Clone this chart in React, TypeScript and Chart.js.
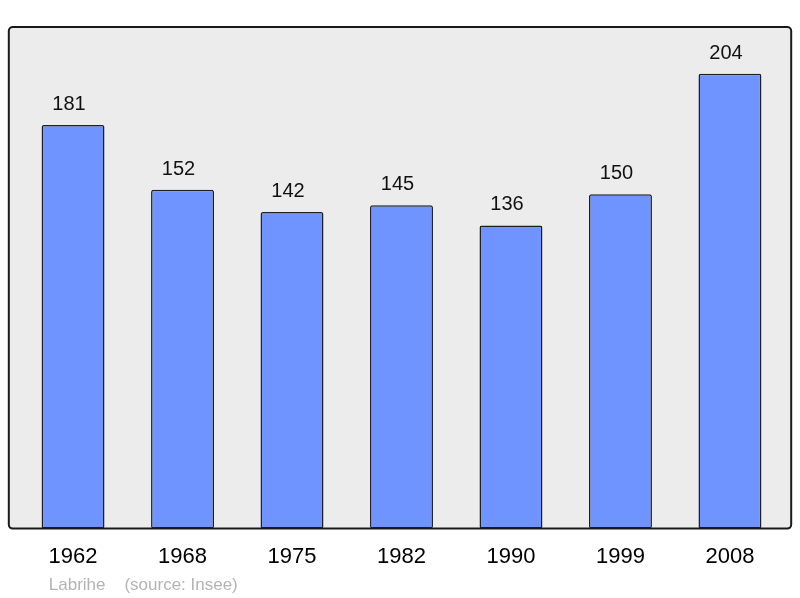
import React, { useEffect, useRef } from "react";
import { Chart, registerables } from "chart.js";

Chart.register(...registerables);

const years = ["1962", "1968", "1975", "1982", "1990", "1999", "2008"];
const population = [181, 152, 142, 145, 136, 150, 204];
const yMax = 225;
const sourceText = "Labrihe    (source: Insee)";

const framePlugin = {
  id: "frame",
  beforeDraw(chart: any) {
    const { ctx, chartArea } = chart;
    const x0 = chartArea.left - 9.5;
    const x1 = chartArea.right + 6.5;
    const y0 = chartArea.top;
    const y1 = chartArea.bottom;
    ctx.save();
    ctx.beginPath();
    ctx.roundRect(x0, y0, x1 - x0, y1 - y0, 4);
    ctx.fillStyle = "#ececec";
    ctx.fill();
    ctx.restore();
  },
  afterDatasetsDraw(chart: any) {
    const { ctx, chartArea } = chart;
    const x0 = chartArea.left - 9.5;
    const x1 = chartArea.right + 6.5;
    const y0 = chartArea.top;
    const y1 = chartArea.bottom;
    ctx.save();
    ctx.beginPath();
    ctx.roundRect(x0, y0, x1 - x0, y1 - y0, 4);
    ctx.lineWidth = 2;
    ctx.strokeStyle = "#1a1a1a";
    ctx.stroke();
    // value labels
    const meta = chart.getDatasetMeta(0);
    ctx.fillStyle = "#111";
    ctx.font = "20px 'Liberation Sans', Arial, sans-serif";
    ctx.textAlign = "center";
    ctx.textBaseline = "alphabetic";
    meta.data.forEach((bar: any, i: number) => {
      ctx.fillText(String(population[i]), bar.x - 4, bar.y - 15);
    });
    // source
    ctx.fillStyle = "#b3b3b3";
    ctx.font = "17px 'Liberation Sans', Arial, sans-serif";
    ctx.textAlign = "left";
    ctx.fillText(sourceText, chartArea.left + 30.5, chart.height - 8);
    ctx.restore();
  },
};

export default function App() {
  const ref = useRef<HTMLCanvasElement | null>(null);
  useEffect(() => {
    if (!ref.current) return;
    const chart = new Chart(ref.current, {
      type: "bar",
      data: {
        labels: years,
        datasets: [
          {
            data: population,
            backgroundColor: "#7094ff",
            borderColor: "#1f1f1f",
            borderWidth: 1.5,
            borderRadius: 2,
            borderSkipped: false,
            barPercentage: 0.575,
            categoryPercentage: 1,
          },
        ],
      },
      options: {
        animation: false,
        responsive: false,
        maintainAspectRatio: false,
        layout: { padding: { left: 18.3, right: 15.3, top: 27, bottom: 13 } },
        plugins: { legend: { display: false }, tooltip: { enabled: false } },
        scales: {
          x: {
            offset: true,
            grid: { display: false, drawTicks: false },
            border: { display: false },
            ticks: {
              padding: 15,
              color: "#000",
              font: { size: 22, family: "'Liberation Sans', Arial, sans-serif" },
            },
          },
          y: {
            display: false,
            min: 0,
            max: yMax,
          },
        },
      },
      plugins: [framePlugin],
    });
    return () => chart.destroy();
  }, []);
  return (
    <div style={{ position: "fixed", left: 0, top: 0, width: 800, height: 598, background: "#fff" }}>
      <canvas ref={ref} width={800} height={598} style={{ width: 800, height: 598 }} />
    </div>
  );
}
